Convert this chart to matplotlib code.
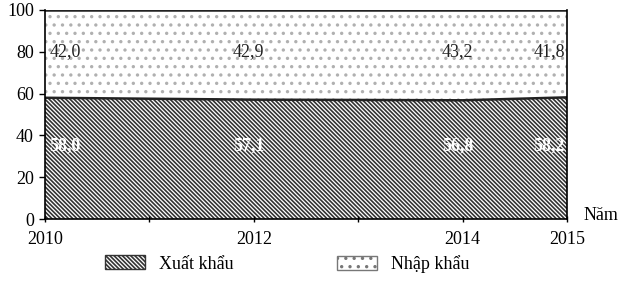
import matplotlib
matplotlib.use("Agg")
import matplotlib.pyplot as plt
from matplotlib.patches import Patch

years = [2010, 2012, 2014, 2015]
xuat_khau = [58.0, 57.1, 56.8, 58.2]
nhap_khau = [42.0, 42.9, 43.2, 41.8]
tick_labels = ["2010", "2012", "2014", "2015"]
yticks = [0, 20, 40, 60, 80, 100]
series_names = ["Xuất khẩu", "Nhập khẩu"]

plt.rcParams['font.family'] = ['Liberation Serif', 'DejaVu Serif']
plt.rcParams['hatch.linewidth'] = 1.2

HATCH_X = '\\' * 8
HATCH_N = '..'

fig = plt.figure(figsize=(6.27, 2.81), dpi=100)
ax = fig.add_axes([45/627, 1-219/281, (567-45)/627, (219-10)/281])

tops = [a + b for a, b in zip(xuat_khau, nhap_khau)]
ax.fill_between(years, 0, xuat_khau, facecolor='white', edgecolor='#333333',
                hatch=HATCH_X, linewidth=0)
ax.fill_between(years, xuat_khau, tops, facecolor='white', edgecolor='#b0b0b0',
                hatch=HATCH_N, linewidth=0)
ax.plot(years, xuat_khau, color='#222222', lw=1.8)
ax.plot(years, tops, color='#222222', lw=1.8)

ax.set_xlim(2010, 2015)
ax.set_ylim(0, 100)
ax.set_xticks(years)
ax.set_xticklabels(tick_labels, fontsize=13)
ax.set_xticks([2011, 2013], minor=True)
ax.set_yticks(yticks)
ax.set_yticklabels([str(v) for v in yticks], fontsize=13)
ax.tick_params(axis='x', which='both', direction='inout', length=5, width=1, pad=6)
ax.tick_params(axis='y', direction='out', length=4, width=1, pad=4)
for s in ['left', 'bottom', 'right']:
    ax.spines[s].set_linewidth(1.2)
ax.spines['top'].set_visible(False)

offsets = [0.04, -0.05, -0.05, -0.02]
aligns = ['left', 'center', 'center', 'right']
for x, e, i, dx, ha in zip(years, xuat_khau, nhap_khau, offsets, aligns):
    ax.text(x + dx, 80, f"{i:.1f}".replace('.', ','), ha=ha, va='center',
            fontsize=13, color='#222222')
    ax.text(x + dx, 35, f"{e:.1f}".replace('.', ','), ha=ha, va='center',
            fontsize=13, color='white', fontweight='bold')

fig.text(601/627, 1-215/281, "Năm", ha='center', va='center', fontsize=13)

h1 = Patch(facecolor='white', edgecolor='#333333', hatch=HATCH_X, lw=1)
h2 = Patch(facecolor='white', edgecolor='#777777', hatch=HATCH_N, lw=1)
for h, name, x0 in zip([h1, h2], series_names, [105, 337]):
    fig.legend([h], [name], loc='center left', bbox_to_anchor=(x0/627, 1-264/281),
               frameon=False, fontsize=13, handlelength=2.2, handleheight=0.8,
               handletextpad=0.8, borderpad=0, borderaxespad=0)

fig.savefig("out.png", dpi=100)
